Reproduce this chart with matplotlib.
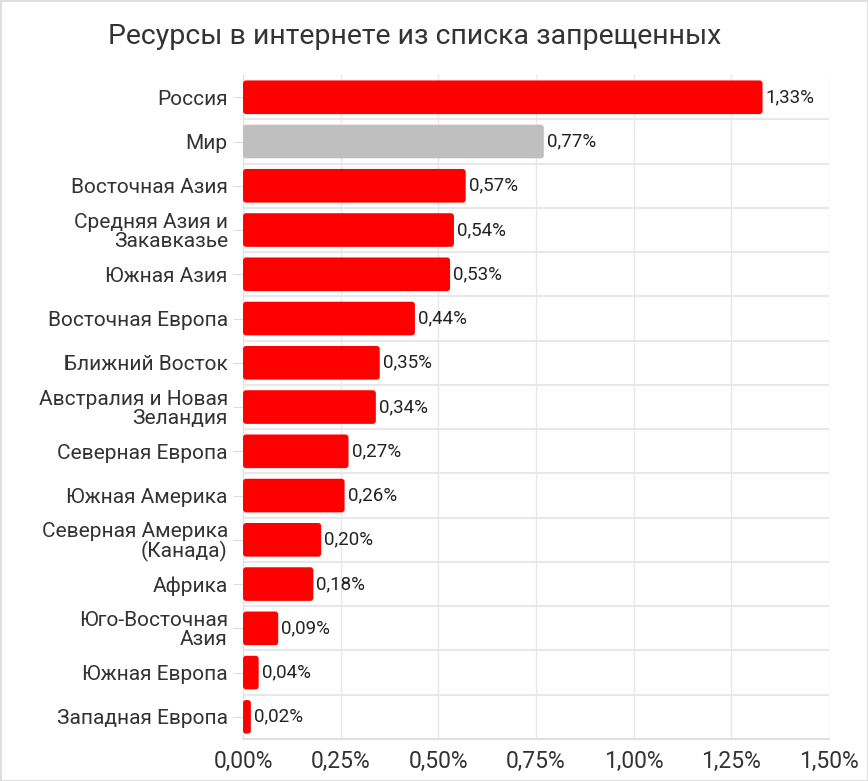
import matplotlib
matplotlib.use("Agg")
import matplotlib.pyplot as plt
from matplotlib.patches import Rectangle, FancyBboxPatch
from matplotlib.ticker import FuncFormatter

# данные с картинки
regions = [
    "Россия", "Мир", "Восточная Азия", "Средняя Азия и\nЗакавказье",
    "Южная Азия", "Восточная Европа", "Ближний Восток",
    "Австралия и Новая\nЗеландия", "Северная Европа", "Южная Америка",
    "Северная Америка\n(Канада)", "Африка", "Юго-Восточная\nАзия",
    "Южная Европа", "Западная Европа",
]
shares = [1.33, 0.77, 0.57, 0.54, 0.53, 0.44, 0.35, 0.34, 0.27, 0.26,
          0.20, 0.18, 0.09, 0.04, 0.02]
highlight = "Мир"

plt.rcParams["font.family"] = ["Roboto", "DejaVu Sans"]

fig = plt.figure(figsize=(8.68, 7.81), dpi=100)
ax = fig.add_axes([0.280, 0.0538, 0.675, 0.850])

ax.set_ylim(len(regions) - 0.5, -0.5)
ax.set_xlim(0, 1.5)

colors = ["#BFBFBF" if r == highlight else "#FF0000" for r in regions]
y = list(range(len(regions)))
bars = ax.barh(y, shares, height=0.76, color=colors, zorder=3)

# скругленные углы: заменяем прямоугольники на FancyBboxPatch
(x0, y0), (x1, y1) = ax.transData.transform([(0, 0), (1, 1)])
px_x = 1 / abs(x1 - x0)
px_y = 1 / abs(y1 - y0)
r = 3 * px_x
for b in bars:
    b.set_visible(False)
    fb = FancyBboxPatch((b.get_x(), b.get_y()), b.get_width(), b.get_height(),
                        boxstyle=f"round,pad=0,rounding_size={r}",
                        mutation_aspect=px_y / px_x,
                        facecolor=b.get_facecolor(), edgecolor="none", zorder=3)
    ax.add_patch(fb)

for b, v in zip(bars, shares):
    ax.text(b.get_width() + 0.008, b.get_y() + b.get_height() / 2,
            f"{v:.2f}%".replace(".", ","), va="center", ha="left",
            fontsize=13.5, color="#222222", zorder=4)

ax.set_yticks(y)
ax.set_yticklabels(regions, fontsize=15, color="#333333", linespacing=1.0)
ax.set_xticks([0, 0.25, 0.5, 0.75, 1.0, 1.25, 1.5])
ax.xaxis.set_major_formatter(FuncFormatter(lambda v, p: f"{v:.2f}%".replace(".", ",")))
ax.tick_params(axis="x", labelsize=16.5, colors="#333333", length=0, pad=8)
ax.tick_params(axis="y", length=7, color="#DDDDDD", pad=4)

# сетка: вертикальные линии на делениях и горизонтальные между категориями
ax.grid(axis="x", color="#E8E8E8", linewidth=1, zorder=0)
for k in range(len(regions) - 1):
    ax.axhline(k + 0.5, color="#E8E8E8", linewidth=1.5, zorder=1)

for s in ["top", "right"]:
    ax.spines[s].set_visible(False)
ax.spines["left"].set_color("#E0E0E0")
ax.spines["bottom"].set_color("#E0E0E0")
ax.spines["bottom"].set_linewidth(1.5)

fig.text(0.478, 0.953, "Ресурсы в интернете из списка запрещенных",
         ha="center", va="center", fontsize=20.5, color="#333333")

fig.patches.append(Rectangle((0, 0), 1, 1, transform=fig.transFigure,
                             fill=False, edgecolor="#DDDDDD", linewidth=2))

fig.savefig("out.png", dpi=100)
